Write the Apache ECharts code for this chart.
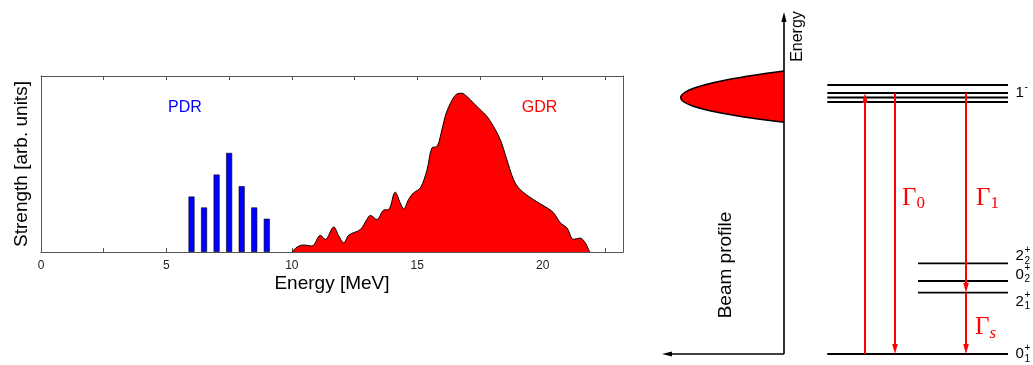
<!DOCTYPE html>
<html>
<head>
<meta charset="utf-8">
<script src="https://cdn.jsdelivr.net/npm/echarts@6/dist/echarts.min.js"></script>
<style>
  html, body { margin: 0; padding: 0; background: #fff; }
  #chart { width: 1033px; height: 365px; }
</style>
</head>
<body>
<div id="chart"></div>
<script>
// ---- Strength distribution ----
// Pygmy dipole resonance: discrete transitions (MeV, arb. units)
const pdrEnergy = [6, 6.5, 7, 7.5, 8, 8.5, 9];
const pdrStrength = [31.5, 25.3, 44, 56.3, 37.4, 25.3, 18.9];

// Giant dipole resonance: strength distribution (MeV, arb. units)
const gdrEnergy = [10.01, 10.21, 10.47, 10.80, 11.14, 11.33, 11.67, 11.87, 12.07, 12.27,
  12.73, 12.99, 13.13, 13.39, 13.66, 13.86, 14.12, 14.32, 14.46, 14.65,
  14.85, 15.12, 15.39, 15.58, 15.78, 15.92, 16.11, 16.32, 16.58, 16.78,
  16.98, 17.25, 17.51, 17.78, 18.04, 18.31, 18.57, 18.84, 19.10, 19.63,
  20.17, 20.43, 20.70, 20.96, 21.23, 21.49, 21.69, 21.87];
const gdrStrength = [0, 2.85, 3.98, 3.4, 9.45, 7.2, 14.2, 9.1, 5.3, 9.6,
  12.8, 18.5, 20.8, 18.5, 23.8, 24.2, 34, 27.9, 24.5, 29.8,
  33.6, 36.4, 46.8, 59.1, 60, 65.7, 77, 84.5, 89.8, 90.2,
  88.3, 84.5, 80.8, 77, 71.3, 63.8, 52.5, 41.1, 35.5, 29.8,
  25.1, 22.3, 16.6, 13.8, 7.2, 7.9, 5.3, 0];

// Energy axis tick labels (MeV)
const energyTickLabels = [0, 5, 10, 15, 20];

// ---- Level scheme (arbitrary energy units) ----
const levelEnergy = [0, 6.13, 7.3, 9.07, 25.2, 25.65, 26.1, 26.9];
const levelFrom = [4.33, 13.4, 13.4, 13.4, 4.33, 4.33, 4.33, 4.33];
const levelTo = [22.4, 22.4, 22.4, 22.4, 22.4, 22.4, 22.4, 22.4];
const levelSpin = ['0', '2', '0', '2', '', '', '1', ''];
const levelParity = ['+', '+', '+', '+', '', '', '-', ''];
const levelIndex = ['1', '1', '2', '2', '', '', '', ''];

// Transitions: position, initial and final energy, width label
const transX = [8.1, 11.1, 18.2, 18.2];
const transFrom = [0, 26.1, 26.1, 6.13];
const transTo = [26.1, 0, 6.13, 0];
const transName = ['', 'Γ', 'Γ', 'Γ'];
const transSub = ['', '0', '1', 's'];

// Photon beam profile: intensity versus energy
const beamIntensity = [0, 2.86, 5.79, 7.99, 9.47, 10.13, 10.33, 10.08, 9.15, 7.31, 4.6, 2.2, 0];
const beamEnergy = [28.3, 27.9, 27.4, 26.9, 26.4, 26.0, 25.63, 25.25, 24.8, 24.3, 23.8, 23.45, 23.17];

// Diagram axes: [x0, E0, x1, E1]
const diagramAxes = [[0, 0, 0, 34.2], [0, 0, -12.2, 0]];

// ---- Layout helpers ----
const SANS = '"Liberation Sans", Arial, Helvetica, sans-serif';
const SERIF = '"Liberation Serif", "DejaVu Serif", serif';
const RED = '#ff0000';
const labelShiftPx = [0, 9, -6.5, -7, 0, 0, 0, 0];
const gammaLabelE = [null, 15.6, 15.6, 2.65];
const gammaLabelDx = [0, 7, 10, 9];

function arrow(a, b, color, width, headLen, headHalf) {
  const dx = b[0] - a[0], dy = b[1] - a[1];
  const len = Math.hypot(dx, dy);
  const ux = dx / len, uy = dy / len;
  const bx = b[0] - ux * headLen, by = b[1] - uy * headLen;
  return [
    { type: 'line',
      shape: { x1: a[0], y1: a[1], x2: b[0] - ux * (headLen - 2), y2: b[1] - uy * (headLen - 2) },
      style: { stroke: color, lineWidth: width } },
    { type: 'polygon',
      shape: { points: [[b[0], b[1]], [bx - uy * headHalf, by + ux * headHalf], [bx + uy * headHalf, by - ux * headHalf]] },
      style: { fill: color } }
  ];
}

const chart = echarts.init(document.getElementById('chart'), null, { renderer: 'canvas' });

const boxLine = { show: true, onZero: false, lineStyle: { color: '#555', width: 1 } };

const option = {
  animation: false,
  backgroundColor: '#fff',
  textStyle: { fontFamily: SANS },
  grid: [
    { left: 41, top: 76, width: 582, height: 176, outerBoundsMode: 'none' },
    { left: 662, top: 12, width: 346, height: 342, outerBoundsMode: 'none' }
  ],
  xAxis: [
    {
      type: 'value', gridIndex: 0, position: 'bottom', min: 0, max: 23.2, interval: 2.5,
      axisLine: boxLine,
      axisTick: { show: true, inside: true, length: 4, lineStyle: { color: '#555' } },
      axisLabel: {
        color: '#222', fontSize: 12, margin: 8, fontFamily: SANS,
        formatter: v => (energyTickLabels.indexOf(v) >= 0 ? String(v) : '')
      },
      splitLine: { show: false },
      name: 'Energy [MeV]', nameLocation: 'middle', nameGap: 22,
      nameTextStyle: { color: '#000', fontSize: 19, fontFamily: SANS }
    },
    {
      type: 'value', gridIndex: 0, position: 'top', min: 0, max: 23.2, interval: 2.5,
      axisLine: boxLine,
      axisTick: { show: true, inside: true, length: 4, lineStyle: { color: '#555' } },
      axisLabel: { show: false },
      splitLine: { show: false }
    },
    { type: 'value', gridIndex: 1, min: -12.2, max: 22.4, show: false }
  ],
  yAxis: [
    {
      type: 'value', gridIndex: 0, position: 'left', min: 0, max: 100,
      axisLine: boxLine, axisTick: { show: false }, axisLabel: { show: false },
      splitLine: { show: false },
      name: 'Strength [arb. units]', nameLocation: 'middle', nameGap: 10,
      nameTextStyle: { color: '#000', fontSize: 19, fontFamily: SANS }
    },
    {
      type: 'value', gridIndex: 0, position: 'right', min: 0, max: 100,
      axisLine: boxLine, axisTick: { show: false }, axisLabel: { show: false },
      splitLine: { show: false }
    },
    { type: 'value', gridIndex: 1, min: 0, max: 34.2, show: false }
  ],
  graphic: [
    { type: 'text', x: 185, y: 107.5,
      style: { text: 'PDR', fill: '#0000ff', fontSize: 16, fontFamily: SANS, align: 'center', verticalAlign: 'middle' } },
    { type: 'text', x: 539.5, y: 107.5,
      style: { text: 'GDR', fill: RED, fontSize: 16, fontFamily: SANS, align: 'center', verticalAlign: 'middle' } },
    { type: 'text', x: 797.5, y: 36.5, rotation: Math.PI / 2,
      style: { text: 'Energy', fill: '#000', fontSize: 16, fontFamily: SANS, align: 'center', verticalAlign: 'middle' } },
    { type: 'text', x: 725.5, y: 265, rotation: Math.PI / 2,
      style: { text: 'Beam profile', fill: '#000', fontSize: 19, fontFamily: SANS, align: 'center', verticalAlign: 'middle' } }
  ],
  series: [
    {
      name: 'PDR', type: 'bar', xAxisIndex: 0, yAxisIndex: 0,
      data: pdrEnergy.map((e, i) => [e, pdrStrength[i]]),
      barWidth: 6,
      itemStyle: { color: '#0000ff', borderColor: '#000', borderWidth: 0.6 }
    },
    {
      name: 'GDR', type: 'line', xAxisIndex: 0, yAxisIndex: 0,
      data: gdrEnergy.map((e, i) => [e, gdrStrength[i]]),
      smooth: 0.35, showSymbol: false, symbol: 'none',
      lineStyle: { color: '#000', width: 1 },
      areaStyle: { color: RED, opacity: 1 }
    },
    {
      name: 'Beam profile', type: 'custom', xAxisIndex: 2, yAxisIndex: 2,
      data: beamIntensity.map((v, i) => [-v, beamEnergy[i]]),
      renderItem: (params, api) => {
        if (params.dataIndex !== 0) return null;
        // open smooth curve; the fill closes it along the energy axis
        const pts = beamIntensity.map((v, i) => api.coord([-v, beamEnergy[i]]));
        return { type: 'polyline',
          shape: { points: pts, smooth: 0.3 },
          style: { fill: RED, stroke: '#000', lineWidth: 1.5 } };
      }
    },
    {
      name: 'Axes', type: 'custom', xAxisIndex: 2, yAxisIndex: 2,
      data: diagramAxes,
      encode: { x: [0, 2], y: [1, 3] },
      renderItem: (params, api) => {
        const a = api.coord([api.value(0), api.value(1)]);
        const b = api.coord([api.value(2), api.value(3)]);
        return { type: 'group', children: arrow(a, b, '#000', 1.6, 10, 2.6) };
      }
    },
    {
      name: 'Levels', type: 'custom', xAxisIndex: 2, yAxisIndex: 2,
      data: levelEnergy.map((e, i) => [levelFrom[i], levelTo[i], e]),
      encode: { x: [0, 1], y: 2 },
      renderItem: (params, api) => {
        const i = params.dataIndex;
        const p0 = api.coord([api.value(0), api.value(2)]);
        const p1 = api.coord([api.value(1), api.value(2)]);
        const children = [{ type: 'line',
          shape: { x1: p0[0], y1: p0[1], x2: p1[0], y2: p1[1] },
          style: { stroke: '#000', lineWidth: 1.8 } }];
        if (levelSpin[i]) {
          const cy = p1[1] + labelShiftPx[i];
          const lx = p1[0] + 7.5;
          children.push({ type: 'text', x: lx, y: cy,
            style: { text: levelSpin[i], fill: '#000', fontSize: 15, fontFamily: SANS, align: 'left', verticalAlign: 'middle' } });
          children.push({ type: 'text', x: lx + 9, y: cy - 6,
            style: { text: levelParity[i], fill: '#000', fontSize: 10, fontFamily: SANS, align: 'left', verticalAlign: 'middle' } });
          if (levelIndex[i]) {
            children.push({ type: 'text', x: lx + 9, y: cy + 5,
              style: { text: levelIndex[i], fill: '#000', fontSize: 10, fontFamily: SANS, align: 'left', verticalAlign: 'middle' } });
          }
        }
        return { type: 'group', children };
      }
    },
    {
      name: 'Transitions', type: 'custom', xAxisIndex: 2, yAxisIndex: 2,
      data: transX.map((x, i) => [x, transFrom[i], transTo[i]]),
      encode: { x: 0, y: [1, 2] },
      renderItem: (params, api) => {
        const i = params.dataIndex;
        const a = api.coord([api.value(0), api.value(1)]);
        const b = api.coord([api.value(0), api.value(2)]);
        const children = arrow(a, b, RED, 2, 10, 2.8);
        if (transName[i]) {
          const c = api.coord([api.value(0), gammaLabelE[i]]);
          const lx = c[0] + gammaLabelDx[i];
          children.push({ type: 'text', x: lx, y: c[1],
            style: { text: transName[i], fill: RED, fontSize: 25, fontFamily: SERIF, align: 'left', verticalAlign: 'middle' } });
          children.push({ type: 'text', x: lx + 14.5, y: c[1] + 6,
            style: { text: transSub[i], fill: RED, fontSize: 17, fontFamily: SERIF,
              fontStyle: transSub[i] === 's' ? 'italic' : 'normal', align: 'left', verticalAlign: 'middle' } });
        }
        return { type: 'group', children };
      }
    }
  ]
};

chart.setOption(option);
</script>
</body>
</html>
